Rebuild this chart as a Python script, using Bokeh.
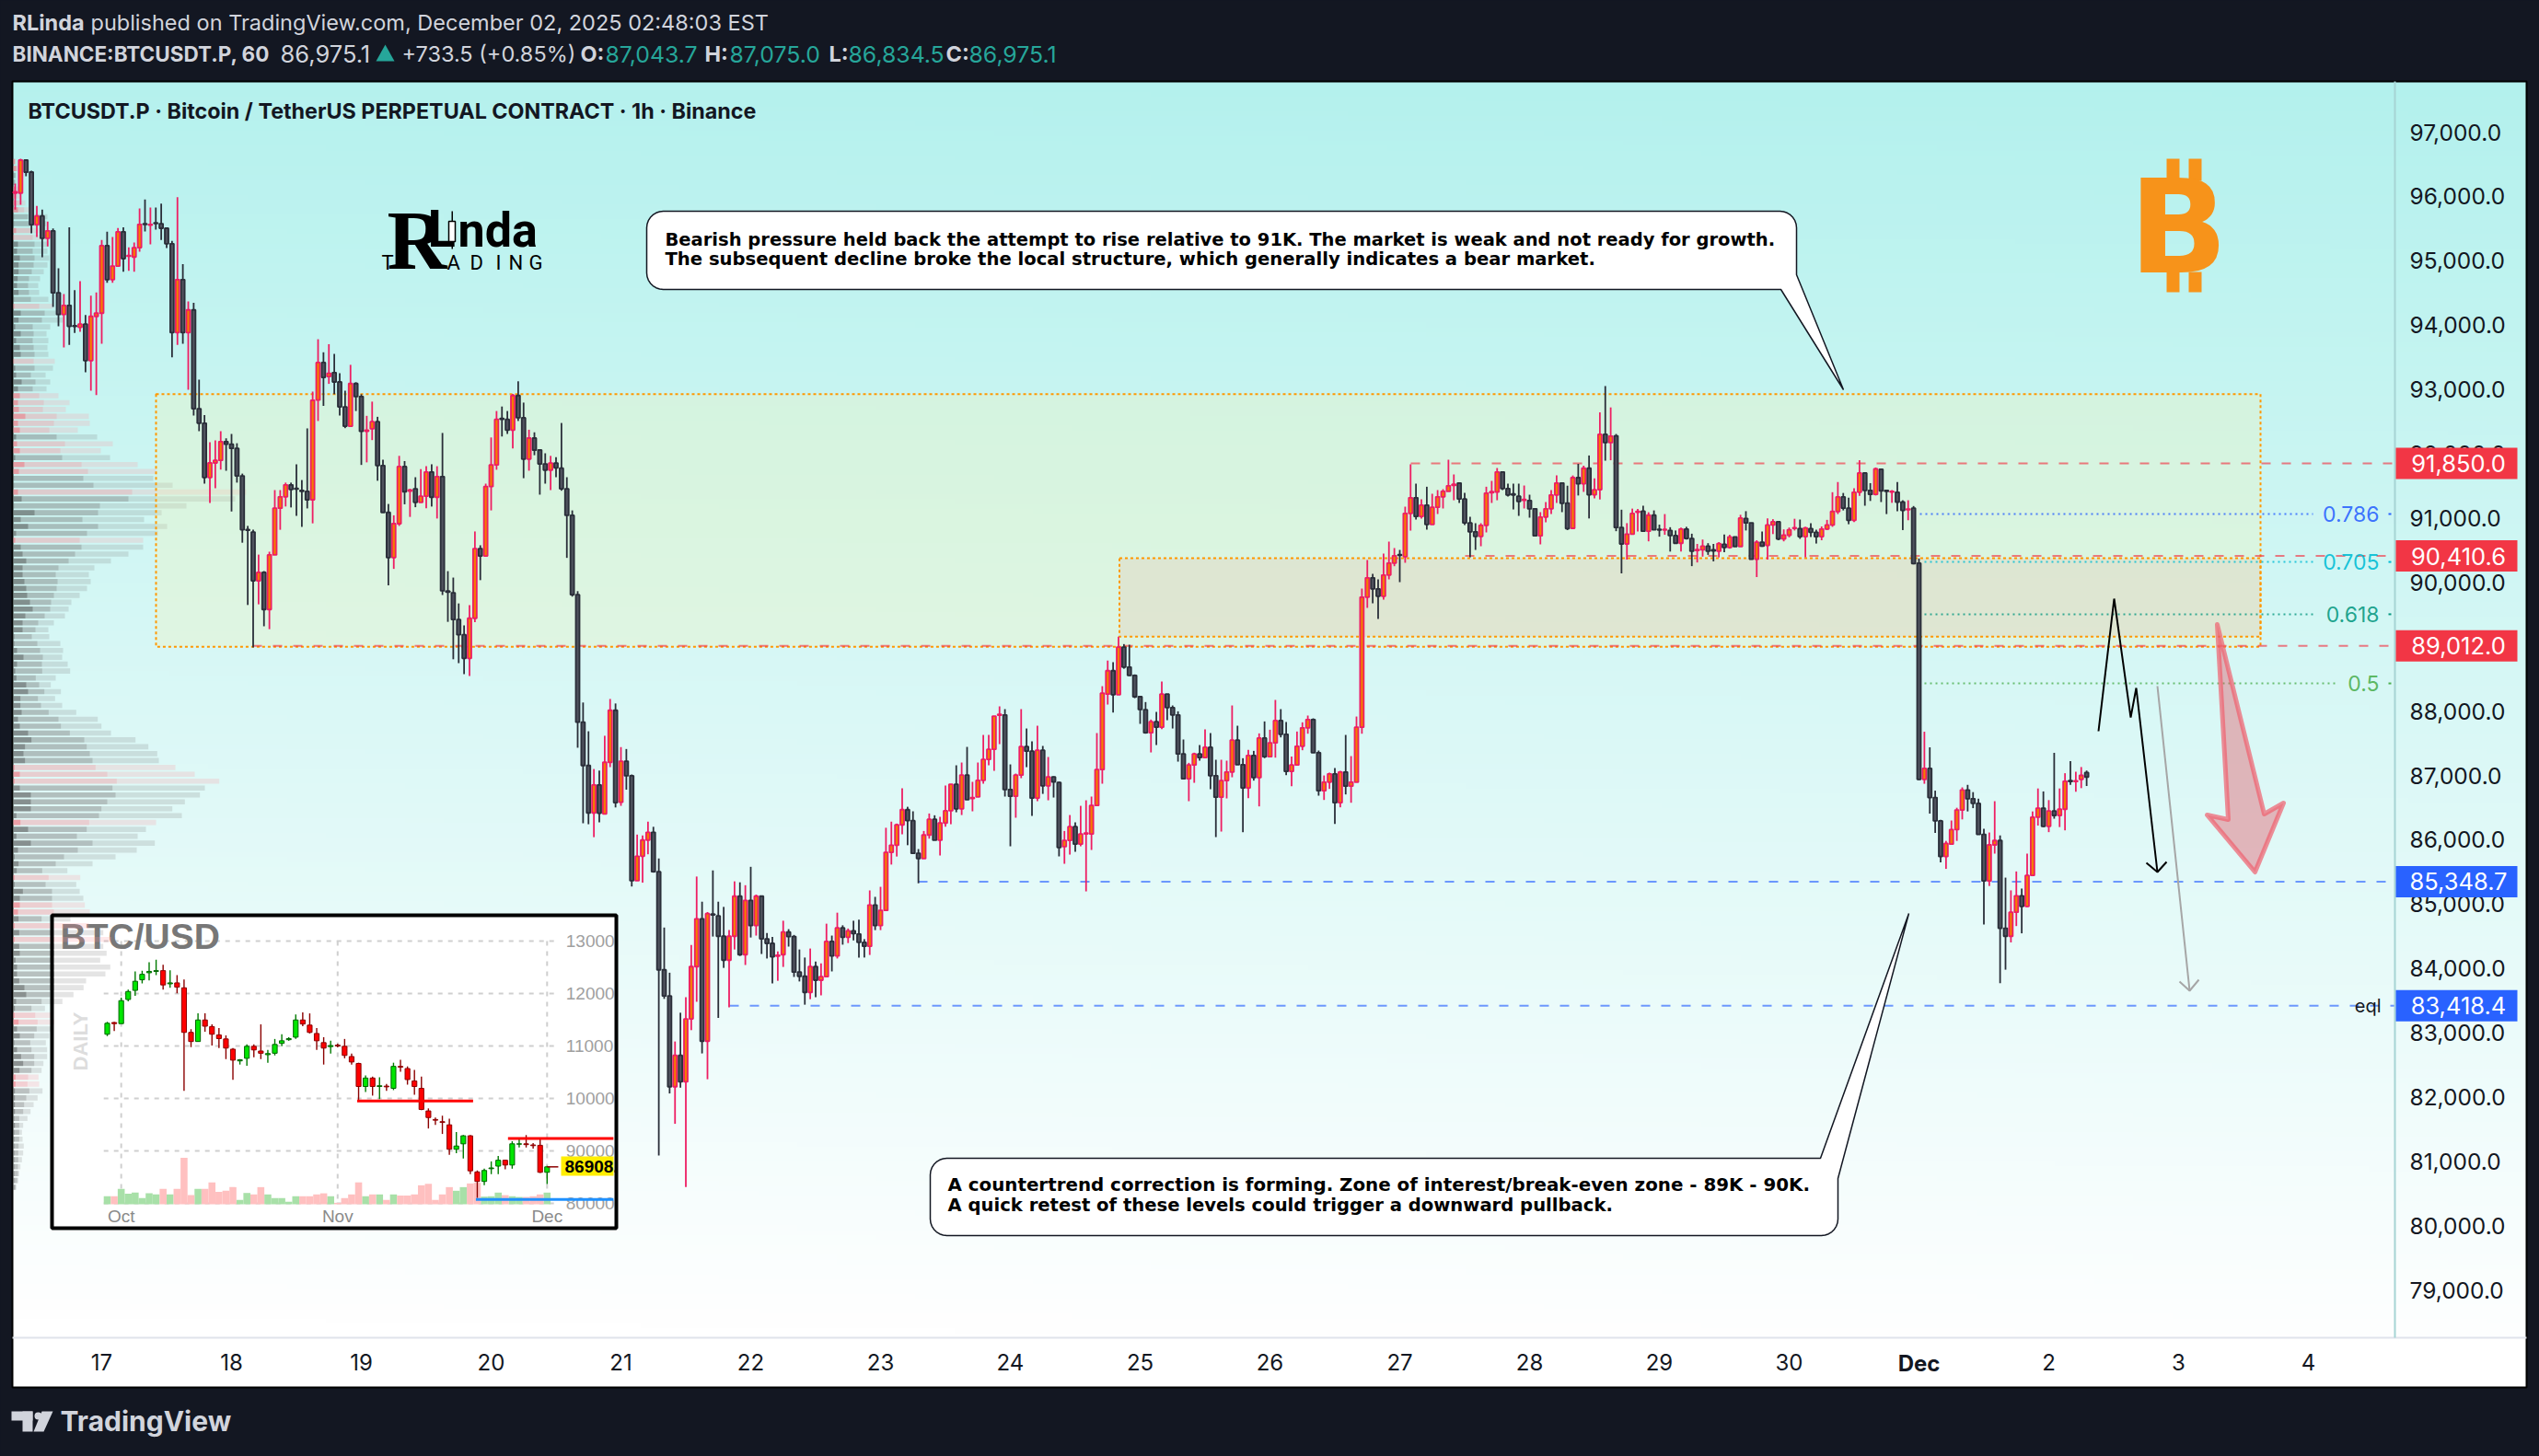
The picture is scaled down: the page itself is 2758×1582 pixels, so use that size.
import numpy as np
from bokeh.plotting import figure
from bokeh.models import Range1d, LinearAxis, FixedTicker, NumeralTickFormatter
from bokeh.core.properties import value
from bokeh.embed import file_html
from bokeh.resources import INLINE

# ---------- main hourly candles (index 0 = Nov 16 08:00, one bar per hour) ----------
first_hour = -16
opens = [
96052,96052,96564,96378,95560,95696,95349,95465,94501,94165,
94306,93990,93965,94015,93448,94135,94185,95234,94707,94918,
95450,95070,95058,95204,95575,95555,95590,95575,95505,95264,
93884,94707,93884,94235,92700,92474,91631,91857,91897,92188,
92148,92083,91656,90820,90783,90025,90156,89579,90427,91154,
91330,91516,91460,91430,91415,91285,92835,93417,93201,93261,
93116,92729,92428,93091,92890,92350,92388,92498,91816,91088,
90386,90913,91801,91420,91455,91244,91339,91716,91324,91645,
89865,89839,89422,89187,88820,89443,90526,90411,91490,91826,
92550,92534,92368,92905,92559,91916,92243,92057,91841,91746,
91856,91776,91455,91043,89809,87827,87154,86417,86853,86402,
87204,88012,86582,87220,86994,85363,85744,85995,86116,85503,
83978,83571,82161,82648,82237,83215,84028,84771,82869,84845,
84816,84500,84128,84500,85122,84214,85057,84665,85122,84460,
84389,84190,84214,84565,84495,83943,83878,83627,84028,83817,
83872,84419,84194,84630,84485,84585,84535,84405,84344,84986,
84665,84901,85804,85915,86231,86467,86296,85789,85707,86074,
86318,85993,86260,86451,86861,86480,87004,86640,86666,86923,
87248,87405,87935,87939,86780,86675,87004,87448,87376,86647,
87391,86838,86976,86890,85893,85989,86203,85931,86090,86089,
86532,87090,88264,88627,88254,88995,88683,88555,88223,88020,
87663,87834,87748,88263,88054,87939,87334,86947,87162,87334,
87276,87438,86995,86661,86919,87052,87548,87167,86804,87310,
86966,87581,87291,87505,87853,87639,87062,87162,87453,87739,
87868,87353,86761,86895,87024,86575,87052,86833,86895,87748,
89771,90071,89899,89785,90114,90300,90430,90400,91072,91316,
91025,91201,90901,91168,91330,91416,91510,91545,91297,90925,
90786,90715,90886,91395,91406,91716,91459,91375,91339,91275,
91273,91144,90724,91015,91144,91359,91545,91232,90841,91628,
91532,91775,91362,91442,92301,92173,92278,90853,90598,90751,
91090,91107,90796,91045,90825,90815,90807,90728,90609,90830,
90683,90495,90508,90564,90505,90485,90593,90542,90706,90559,
90994,90926,90361,90626,90576,90892,90943,90677,90734,90840,
90836,90711,90836,90779,90711,90830,90892,91102,91328,91153,
90966,91402,91701,91430,91368,91758,91430,91405,91401,91249,
91130,91153,90298,86938,87108,86655,86293,85739,85931,86157,
86463,86774,86638,86565,86084,85360,85920,85988,84624,84500,
84873,85128,84964,85445,86350,86491,86208,86446,86378,86474,
86920,86905,86938,87044]
highs = [
96198,96584,96564,96398,95851,95796,95610,95500,94883,94481,
95520,94542,94682,94155,94456,94506,95324,95450,95370,95510,
95520,95209,95284,95811,95952,95826,95826,95886,95505,95309,
95987,94948,94366,94346,93152,92600,92178,92208,92349,92238,
92309,92163,91691,90878,90818,90432,90176,90477,91435,91435,
91551,91551,91837,91591,92394,92966,93780,93577,93703,93552,
93251,92980,93382,93111,92925,92589,92810,92574,91906,91219,
91043,91967,91886,91455,91635,91761,91806,91836,91806,92323,
90175,90075,89673,89332,89648,90792,90577,91535,92253,92664,
92734,92664,92930,93126,92795,92373,92333,92057,92007,91967,
91947,92478,91635,91119,89864,88133,87686,87099,87074,87616,
88188,88118,87440,87410,87014,86080,86065,86281,86201,85709,
84635,83933,82864,83311,83551,84364,85428,85037,84876,85523,
85037,84956,84595,85353,85338,85293,85579,85147,85122,84550,
84490,84264,84741,84610,84520,84294,84169,84309,84108,84078,
84695,84510,84866,84670,84620,84741,84756,84455,85212,85112,
85268,86186,86281,86251,86798,86512,86442,85855,86136,86408,
86380,86356,86842,86861,87157,87200,87443,86900,87200,87629,
87629,87920,88073,88030,87171,87028,88030,87729,87529,87772,
87458,87286,86985,86900,86136,86384,86270,86527,86613,86671,
87658,88387,88785,88760,89158,89041,89031,88570,88223,88140,
87868,87987,88458,88263,88087,87996,87558,87195,87353,87472,
87715,87658,87243,87243,87229,88087,87772,87267,87396,87381,
87653,87839,87710,88173,88030,87830,87295,87682,87825,87930,
87887,87386,86999,87043,87114,87071,87629,87300,87915,89904,
90348,90133,90047,90448,90634,90534,90505,91177,91836,91535,
91292,91487,91378,91435,91449,91907,91678,91545,91392,91020,
90920,90920,91487,91578,91778,91716,91535,91535,91535,91506,
91363,91144,91092,91249,91435,91664,91545,91503,91662,91843,
91814,91973,91616,92643,93052,92720,92307,91130,90921,91147,
91141,91192,91090,91119,90898,91062,90858,90807,90853,90864,
90757,90598,90666,90610,90598,90626,90745,90740,90706,91051,
91107,90926,90655,90791,90994,90983,90943,90824,90853,90989,
90977,90864,90921,90819,90870,90972,91402,91560,91390,91317,
91464,91899,91701,91543,91786,91758,91430,91435,91560,91277,
91277,91187,90372,87679,87436,86763,86310,85982,86299,86497,
86814,86853,86740,86638,86169,86112,86599,86067,85411,85213,
85507,85241,85784,86440,86797,86751,86616,87351,86797,87034,
87221,87057,87130,87075]
lows = [
95796,95871,96313,95425,95370,95053,95224,94281,93980,93653,
93693,93879,93894,93267,92981,92911,93709,94657,94657,94918,
94828,94843,94828,95139,95455,95254,95485,95324,95199,93498,
93693,93709,92996,92594,92349,91536,91235,91465,91752,91736,
91104,91551,90617,89649,88987,89659,89318,89273,90427,90818,
91180,91165,91034,90863,91150,90918,92509,92744,93086,92925,
92594,92398,92428,92664,91826,91866,92212,91580,91088,89954,
90210,90878,91214,91018,91169,91244,91154,91179,90993,89804,
89387,88805,88745,88574,88544,89382,90035,90411,91119,91751,
92268,92308,92082,92509,91620,91736,91977,91364,91535,91435,
91635,91425,90381,89779,87430,86256,86241,86040,86271,86392,
87129,86502,86527,86778,85273,85363,85333,85774,85488,81093,
83526,82056,81584,82146,80600,83040,83481,82678,82277,84495,
83230,84008,83396,84294,84194,84053,84480,84510,84224,84154,
83767,83807,84023,84339,83867,83797,83436,83521,83551,83581,
83872,83953,84154,84369,84394,84435,84169,84169,84209,84595,
84595,84891,85614,85739,86085,85915,85789,85323,85707,86017,
85993,85755,86203,86241,86427,86384,86623,86442,86666,86871,
87157,87071,87486,86671,85898,86342,86957,87128,86370,86599,
86713,86613,86656,85741,85626,85769,85812,85898,85197,85841,
86532,86871,88101,87977,88254,88658,88545,88200,87801,87648,
87357,87472,87720,87858,87729,87214,86947,86599,86885,87229,
87276,86785,86041,86127,86642,86971,87167,86117,86647,86919,
86518,87267,87291,87276,87591,87004,86833,87162,87391,87648,
87353,86685,86618,86790,86246,86504,86704,86575,86895,87648,
89604,89675,89432,89732,90047,90252,90004,90305,90805,90977,
90991,90820,90901,91063,91149,91416,91277,91235,90891,90390,
90505,90562,90777,91235,91277,91435,91335,91134,91034,91149,
91006,90724,90591,90934,91063,91235,91092,90813,90841,91351,
91407,90994,91305,91289,91892,91899,90796,90140,90355,90751,
90791,90796,90638,90819,90711,90740,90479,90598,90479,90666,
90253,90310,90400,90428,90327,90389,90468,90525,90559,90559,
90807,90361,90083,90553,90355,90751,90655,90638,90700,90807,
90677,90389,90706,90604,90655,90813,90864,91062,91119,90904,
90938,91345,91192,91266,91351,91249,91062,91237,91107,90813,
90966,90281,86927,86870,86406,86106,85648,85547,85920,85982,
86316,86440,86491,86084,84681,85281,85784,83770,83980,84404,
84658,84545,84953,85433,86220,86197,86118,86327,86197,86146,
86853,86746,86802,86835]
closes = [
96072,96564,96378,95560,95696,95349,95465,94501,94165,94306,
93980,93980,94015,93448,94135,94185,95234,94707,94918,95450,
95033,95080,95204,95565,95565,95565,95580,95505,95264,93884,
94707,93884,94235,92700,92474,91631,91857,91897,92188,92148,
92083,91656,90818,90810,90025,90156,89579,90427,91154,91330,
91516,91445,91450,91415,91285,92830,93417,93186,93251,93116,
92729,92428,93091,92890,92348,92365,92498,91816,91088,90386,
90913,91801,91410,91435,91244,91339,91716,91324,91645,89869,
89850,89422,89187,88820,89443,90526,90411,91490,91826,92534,
92535,92368,92905,92559,91916,92243,92057,91841,91746,91856,
91781,91455,91043,89809,87827,87154,86417,86853,86412,87204,
88012,86577,87220,86994,85363,85744,85995,86116,85503,83978,
83571,82161,82648,82237,83215,84028,84771,82869,84851,84830,
84500,84128,84500,85122,84214,85057,84665,85122,84460,84389,
84179,84205,84565,84495,83943,83878,83627,84028,83817,83872,
84419,84194,84630,84485,84585,84540,84405,84344,84986,84665,
84901,85804,85915,86231,86467,86296,85789,85709,86074,86318,
85993,86260,86451,86861,86480,87004,86623,86655,86923,87248,
87405,87920,87950,86780,86675,87004,87448,87376,86647,87391,
86838,86976,86900,85879,85989,86203,85931,86089,86105,86532,
87090,88278,88627,88254,88995,88683,88555,88223,88024,87663,
87834,87748,88263,88054,87939,87334,86947,87162,87334,87276,
87438,86995,86661,86919,87052,87548,87167,86804,87310,86966,
87581,87291,87505,87853,87639,87062,87162,87453,87739,87868,
87353,86761,86895,87024,86575,87052,86833,86895,87748,89771,
90071,89899,89785,90114,90300,90414,90420,91072,91316,91025,
91201,90901,91168,91330,91416,91502,91525,91297,90925,90786,
90715,90886,91387,91410,91716,91459,91359,91360,91258,91290,
91144,90724,91015,91144,91359,91545,91230,90836,91628,91532,
91775,91362,91441,92301,92173,92275,90853,90598,90751,91073,
91105,90796,91045,90819,90815,90825,90728,90609,90830,90683,
90485,90510,90564,90485,90490,90604,90542,90706,90559,90999,
90926,90361,90626,90564,90892,90943,90677,90734,90819,90850,
90711,90847,90779,90711,90830,90892,91102,91328,91153,90966,
91402,91701,91430,91368,91764,91424,91415,91415,91249,91119,
91140,90293,86938,87108,86655,86293,85739,85943,86157,86463,
86774,86638,86565,86084,85360,85920,85988,84624,84500,84873,
85128,84964,85445,86350,86491,86208,86446,86378,86474,86910,
86905,86915,87000,86975]

# ---------- volume profile rows, top to bottom ----------
vp_top_price = 96540
vp_step = 107
vp_side = ("ppggppppgg" "ppgggggggg" "gpgggggggp" "ggggpppppp" "gppgppggpg" "gggggpgggg"
           "gggggggggg" "gggg" "gggggggggggggg" "ppp" "ggggg" "p" "ggggggg" "p" "ggg" "pp"
           "gpgp" "gggggggggg" "pp" "ggggggg" "pp" "ggggggggggggggg")
vp_part1 = [5,9,2,2,5,2,3,15,2,2, 9,2,15,12,21,17,17,14,12,17,
            2,3,24,17,6,24,9,21,24,2, 6,9,27,15,21,15,18,39,15,21,
            9,12,21,6,36,18,2,2,15,27, 2,69,24,48,9,6,24,30,42,30,
            30,36,42,45,54,63,39,30,30,3, 3,12,33,12,
            6,10,42,48,23,23,27,15,21,48,59,38,33,38,4,21,4,21,57,57,57,10,23,48,10,57,15,4,17,11,4,4,31,21,21,15,
            17,4,19,4,19,21,7,12,12,19,36,42,9,5,4,17,12,21,3,12,25,32,20,7,7,5,5,5,5,3,5,3,3,3,3,3,3,3,3,3]
vp_part2 = [5,12,7,5,7,9,19,35,47,57, 57,63,69,63,69,66,60,51,48,51,
            57,84,102,93,63,66,63,66,69,66, 69,57,72,63,84,99,96,141,132,117,
            141,168,153,159,222,243,228,261,387,375, 282,276,225,276,240,216,222,201,180,147,
            138,144,141,132,123,120,102,81,72,60, 78,87,96,93,
            94,73,84,101,80,90,115,147,155,184,231,239,249,258,268,306,337,323,333,306,287,279,247,239,207,258,210,165,138,94,115,105,126,126,126,132,
            92,119,126,133,133,133,126,133,133,133,133,119,92,59,71,79,76,68,55,59,68,68,59,48,46,52,42,35,32,19,19,19,19,17,16,16,15,15,12,8]
vp_total = [9,15,9,9,17,22,39,57,111,107, 102,112,115,111,117,111,99,87,81,84,
            114,129,162,162,120,108,114,111,114,135, 129,105,120,108,147,183,171,246,249,210,
            273,324,285,315,405,467,456,519,759,723, 564,483,426,501,471,423,423,375,318,264,
            246,252,240,216,189,180,168,132,114,117, 153,162,159,177,
            185,138,122,155,136,159,205,275,287,318,398,440,469,474,528,591,671,624,608,559,518,549,465,432,405,461,402,333,258,176,218,205,216,228,233,249,
            186,246,293,320,293,304,283,316,300,237,229,196,160,103,122,133,130,117,106,110,110,98,92,82,84,95,79,66,56,46,32,28,30,34,32,28,23,19,16,9]

# ---------- level lines and fib ----------
level_prices = [91850.0, 90410.6, 89012.0, 85348.7, 83418.4]
level_labels = ["91,850.0", "90,410.6", "89,012.0", "85,348.7", "83,418.4"]
zone_big = (92926, 89000)
zone_small = (90375, 89158)
fib_prices = [91063, 90318, 89505, 88430]
fib_labels = ["0.786", "0.705", "0.618", "0.5"]
price_ticks = [79000,80000,81000,82000,83000,84000,85000,86000,87000,88000,89000,90000,
               91000,92000,93000,94000,95000,96000,97000]
hour_ticks = [0,24,48,72,96,120,144,168,192,216,240,264,288,312,360,384,408]
hour_labels = ["17","18","19","20","21","22","23","24","25","26","27","28","29","30","2","3","4"]

# ---------- inset daily chart ----------
in_open = [112240,114470,114260,118860,120600,122620,123960,124220,124360,121850,122030,121090,112590,110850,114960,113700,112100,111340,109390,107160,
           107650,109940,109040,108340,108620,110500,111200,111680,114960,113980,112380,110640,109880,110160,109940,107990,106670,102280,103890,102280,
           102350,101930,106110,105700,103330,101930,97620,95990,95570,94970,90310,91350,92880,85990,84180,86610,87100,88220,87310,91280,91350,91140,91070,85920]
in_high = [114610,114610,119200,120740,124220,124360,125960,126450,125470,124430,123520,122690,113220,116210,116210,114120,113420,112030,109600,107500,
           110290,110290,114120,109250,111340,112240,111680,116000,116420,116210,113420,111680,110990,110430,111340,108550,106810,104370,104160,104020,
           102770,106810,107370,106110,105420,104160,98100,96360,96710,96150,93580,93020,93020,86270,86610,88000,89050,88350,91840,92190,93020,91490,92190,87170]
in_low = [111890,112870,114260,118510,119550,121920,122480,123520,120740,121090,120040,101450,109800,110850,112730,110080,109600,107500,103540,106460,
          106250,107850,107500,106810,108200,109940,110990,111340,113770,112380,109250,106460,108550,109740,107650,106460,99500,101240,100540,99850,
          101450,101590,105070,102630,100680,97760,94270,94970,93230,89260,89540,88560,85570,81040,83480,85570,85570,86470,86610,90650,90650,90440,85780,83690]
in_close = [114330,114260,118650,120390,122340,123660,124220,124360,121640,122030,121220,112590,110850,114960,113770,112240,111410,109600,107300,107370,
            109940,109250,108620,108550,110290,110990,111400,114960,114190,112590,110990,109600,110090,110000,108200,106950,102280,103890,102280,102420,
            102210,106110,105970,103600,102280,97900,96360,95850,95430,90310,90930,92880,86200,84180,86270,86750,88220,87310,91350,91350,91200,91000,85920,86960]
in_vol = [22,22,42,29,32,17,30,27,42,27,42,127,25,42,42,60,34,37,47,12,31,27,47,27,17,17,7,22,22,22,27,30,
          22,4,17,27,60,22,27,27,12,27,24,24,27,52,56,12,27,47,37,47,57,59,21,22,32,25,22,20,20,22,27,32]
in_price_ticks = [130000,120000,110000,100000,90000,80000]
in_price_labels = ["13000","12000","11000","10000","90000","80000"]
in_day_ticks = [2,33,63]
in_day_labels = ["Oct","Nov","Dec"]

header_ohlc = ["87,043.7","87,075.0","86,834.5","86,975.1"]

# ---------- page geometry (page pixels -> data) ----------
PXH, X0 = 5.875, 110
PYP, Y0 = 0.0699, 143
def X(px): return (px - X0) / PXH
def Y(py): return 97000 - (py - Y0) / PYP
L, R, TOP, BOT = 0, 2758, 0, 1582

p = figure(width=R-L, height=BOT-TOP, output_backend="svg", toolbar_location=None,
           x_range=Range1d(X(L), X(R)), y_range=Range1d(Y(BOT), Y(TOP)),
           x_axis_type=None, y_axis_type=None, min_border=0, outline_line_color=None,
           background_fill_color="#131722", border_fill_color="#131722")
p.grid.visible = False
p.extra_x_ranges = {
    "vp": Range1d((L-14)*3, (R-14)*3),
    "ix": Range1d((L-116)/7.584, (R-116)/7.584),
}
p.extra_y_ranges = {
    "iy": Range1d(130000-(BOT-1022)/0.0057, 130000-(TOP-1022)/0.0057),
    "iv": Range1d((1308-BOT)*2.52, (1308-TOP)*2.52),
}

def T(px, py, s, size, color, style="normal", align="left", font="Inter", angle=0,
      level="glyph", baseline="middle"):
    if baseline == "alphabetic":
        py = py - 0.36 * size
    p.text(x=[X(px)], y=[Y(py)], text=[s], text_font=value(font), text_font_size=f"{size}px",
           text_color=color, text_font_style=style, text_align=align, text_baseline=baseline,
           angle=angle, level=level)

def box(x0, y0, x1, y1, **kw):
    p.quad(left=[X(x0)], right=[X(x1)], top=[Y(y0)], bottom=[Y(y1)], **kw)

def poly(pts, **kw):
    p.patch([X(a) for a, b in pts], [Y(b) for a, b in pts], **kw)

def line(pts, **kw):
    p.line([X(a) for a, b in pts], [Y(b) for a, b in pts], **kw)

# ---------- background gradient ----------
box(13, 1453, 2744, 1507, fill_color="#ffffff", line_color=None)
rows, cols = 256, 64
ty = np.linspace(1, 0, rows)[:, None]
tx = np.linspace(0, 1, cols)[None, :]
t = np.clip(ty * 0.97 + (0.5 - tx) * 0.03 + 0.03, 0, 1)
img = np.zeros((rows, cols, 4), dtype=np.uint8)
for k, (a, b) in enumerate(zip((178, 241, 237), (255, 255, 255))):
    img[:, :, k] = (a + (b - a) * t).astype(np.uint8)
img[:, :, 3] = 255
p.image_rgba(image=[img.view(np.uint32).reshape(rows, cols)], x=X(13), y=Y(1453),
             dw=X(2744)-X(13), dh=Y(88)-Y(1453))
box(13, 88, 2744, 1507, fill_color=None, line_color="#000000", line_width=2)

# ---------- inset chart ----------
box(56, 994, 669, 1334, fill_color="#ffffff", line_color=None)
idx = np.arange(len(in_open))
io, ih, il, ic = map(np.array, (in_open, in_high, in_low, in_close))
iup = ic >= io
GD = value([5, 6])
p.segment(x0=[-0.5]*6, x1=[64]*6, y0=in_price_ticks, y1=in_price_ticks, x_range_name="ix", y_range_name="iy",
          line_color="#cfcfcf", line_width=2, line_dash=GD)
p.segment(x0=in_day_ticks, x1=in_day_ticks, y0=[130000]*3, y1=[80500]*3, x_range_name="ix", y_range_name="iy",
          line_color="#cfcfcf", line_width=2, line_dash=GD)
T(65, 1017, "BTC/USD", 39, "#777777", "bold", font="Liberation Sans")
T(87, 1131, "DAILY", 22, "#dddddd", "bold", "center", "Liberation Sans", angle=np.pi/2)
p.text(x=[65.7]*6, y=in_price_ticks, text=in_price_labels, x_range_name="ix", y_range_name="iy",
       text_font=value("Liberation Sans"), text_font_size="19px", text_color="#a0a0a0", text_baseline="middle")
for d, s in zip(in_day_ticks, in_day_labels):
    p.text(x=[d], y=[77500], text=[s], x_range_name="ix", y_range_name="iy", text_font=value("Liberation Sans"),
           text_font_size="19px", text_color="#8a8a8a", text_align="center", text_baseline="middle")
p.vbar(x=idx[iup], width=1, bottom=0, top=np.array(in_vol)[iup], x_range_name="ix", y_range_name="iv",
       fill_color="#a8e0a8", line_color=None)
p.vbar(x=idx[~iup], width=1, bottom=0, top=np.array(in_vol)[~iup], x_range_name="ix", y_range_name="iv",
       fill_color="#ffc0c0", line_color=None)
p.segment(x0=idx[iup], x1=idx[iup], y0=il[iup], y1=ih[iup], x_range_name="ix", y_range_name="iy",
          line_color="#007a00", line_width=1.4)
p.segment(x0=idx[~iup], x1=idx[~iup], y0=il[~iup], y1=ih[~iup], x_range_name="ix", y_range_name="iy",
          line_color="#8b0000", line_width=1.4)
p.vbar(x=idx[iup], width=0.68, bottom=io[iup], top=ic[iup], x_range_name="ix", y_range_name="iy",
       fill_color="#00e600", line_color="#006400", line_width=1)
p.vbar(x=idx[~iup], width=0.68, bottom=ic[~iup], top=io[~iup], x_range_name="ix", y_range_name="iy",
       fill_color="#ff0000", line_color="#8b0000", line_width=1)
p.segment(x0=[35.8], x1=[52.4], y0=[99500], y1=[99500], x_range_name="ix", y_range_name="iy", line_color="#ff0000", line_width=3)
p.segment(x0=[57.4], x1=[72.5], y0=[92390], y1=[92390], x_range_name="ix", y_range_name="iy", line_color="#ff0000", line_width=3)
p.segment(x0=[52.8], x1=[72.5], y0=[80760], y1=[80760], x_range_name="ix", y_range_name="iy", line_color="#1e90ff", line_width=3)
p.segment(x0=[63], x1=[64.6], y0=[86960], y1=[86960], x_range_name="ix", y_range_name="iy", line_color="#8b0000", line_width=1.5)
box(609, 1256, 666, 1277, fill_color="#ffee00", line_color=None)
T(613, 1267, "86908.", 19, "#000000", "bold", font="Liberation Sans")

# ---------- volume profile ----------
vp_y = np.array([vp_top_price - vp_step * i for i in range(len(vp_total))])
sides = np.array(list(vp_side)) == "p"
for vals, gc, ga, pc, pa in ((vp_total, "#828282", .22, "#ff96a0", .22),
                             (vp_part2, "#6a6a6a", .27, "#f0828c", .22),
                             (vp_part1, "#2b2b2b", .32, "#f5505f", .36)):
    vals = np.array(vals)
    p.hbar(y=vp_y[~sides], height=80, left=0, right=vals[~sides], x_range_name="vp", fill_color=gc, fill_alpha=ga, line_color=None)
    p.hbar(y=vp_y[sides], height=80, left=0, right=vals[sides], x_range_name="vp", fill_color=pc, fill_alpha=pa, line_color=None)
box(56, 994, 669, 1334, fill_color=None, line_color="#000000", line_width=4)

# ---------- zones ----------
ZD = value([3, 3])
p.quad(left=[X(169)], right=[X(2455)], top=[zone_big[0]], bottom=[zone_big[1]], fill_color="#f4f3b5", fill_alpha=.3,
       line_color="#ff9800", line_width=2, line_dash=ZD)
p.quad(left=[X(1215.5)], right=[X(2455)], top=[zone_small[0]], bottom=[zone_small[1]], fill_color="#e8a898", fill_alpha=.2,
       line_color="#ff9800", line_width=2, line_dash=ZD)

# ---------- level lines ----------
level_start = [1532, 1591, 274, 997, 792]
level_color = ["#f23645", "#f23645", "#f23645", "#2962ff", "#2962ff"]
for lv, st, c in zip(level_prices, level_start, level_color):
    p.segment(x0=[X(st)], x1=[X(2601)], y0=[lv], y1=[lv], line_color=c, line_alpha=.65, line_width=2, line_dash=value([10, 12]))

# ---------- fib ----------
fib_colors = ["#2962ff", "#00bcd4", "#089981", "#4caf50"]
fib_start = [2085, 2090, 2090, 2090]
fib_end = [2512, 2512, 2512, 2538]
for f, s, st, en, c in zip(fib_prices, fib_labels, fib_start, fib_end, fib_colors):
    p.segment(x0=[X(st)], x1=[X(en)], y0=[f], y1=[f], line_color=c, line_width=2, line_dash=value([2, 4]), line_alpha=.8)
    p.segment(x0=[X(2594)], x1=[X(2597)], y0=[f], y1=[f], line_color=c, line_width=2)
    p.text(x=[X(2584)], y=[f], text=[s], text_font=value("Inter"), text_font_size="23px", text_color=c,
           text_align="right", text_baseline="middle", text_alpha=.9)
p.text(x=[X(2586)], y=[level_prices[4]], text=["eql"], text_font=value("Inter"), text_font_size="20px",
       text_color="#131722", text_align="right", text_baseline="middle")

# ---------- candles ----------
h = np.arange(len(opens)) + first_hour
O, H, LO, C = map(np.array, (opens, highs, lows, closes))
up = C >= O
DARK, PINK = "#2a2e39", "#ee1e63"
p.segment(x0=h[~up], x1=h[~up], y0=LO[~up], y1=H[~up], line_color=DARK, line_width=1.8)
p.segment(x0=h[up], x1=h[up], y0=LO[up], y1=H[up], line_color=PINK, line_width=1.8)
p.vbar(x=h[~up], width=0.68, top=O[~up], bottom=C[~up], fill_color="#50535e", line_color=DARK, line_width=1.8)
p.vbar(x=h[up], width=0.68, top=C[up], bottom=O[up], fill_color="#f57c00", line_color=PINK, line_width=1.8)

# ---------- arrows ----------
line([(2279, 794), (2296, 650), (2314, 779), (2320, 747), (2343, 947)], line_color="#000000", line_width=2)
line([(2331, 937), (2343, 947), (2353, 936)], line_color="#000000", line_width=2)
line([(2343, 745), (2378, 1076)], line_color="#a6a6a6", line_width=2)
line([(2367, 1066), (2378, 1076), (2388, 1064)], line_color="#a6a6a6", line_width=2)
poly([(2408, 678), (2420, 890), (2397, 885), (2449, 947), (2480, 872), (2459, 884)],
     fill_color="#e05060", fill_alpha=.4, line_color="#f0606e", line_alpha=.7, line_width=5, line_join="round")

# ---------- callouts ----------
def corner(cx, cy, r, a0, a1):
    return [(cx + r*np.cos(a), cy + r*np.sin(a)) for a in np.linspace(a0, a1, 8)]
pi = np.pi
r = 18
poly(corner(702+r, 229+r, r, pi, 1.5*pi) + corner(1951-r, 229+r, r, 1.5*pi, 2*pi) +
     [(1951, 298), (2002, 423), (1934, 314)] + corner(702+r, 314-r, r, .5*pi, pi),
     fill_color="#ffffff", line_color="#131722", line_width=1.5)
poly(corner(1010+r, 1258+r, r, pi, 1.5*pi) + [(1977, 1258), (2073, 992), (1996, 1280)] +
     corner(1996-r, 1342-r, r, 0, .5*pi) + corner(1010+r, 1342-r, r, .5*pi, pi),
     fill_color="#ffffff", line_color="#131722", line_width=1.5)
CF = "DejaVu Sans"
T(722, 260, "Bearish pressure held back the attempt to rise relative to 91K. The market is weak and not ready for growth.", 19.5, "#000000", "bold", font=CF)
T(722, 281, "The subsequent decline broke the local structure, which generally indicates a bear market.", 19.6, "#000000", "bold", font=CF)
T(1029, 1287, "A countertrend correction is forming. Zone of interest/break-even zone - 89K - 90K.", 19.85, "#000000", "bold", font=CF)
T(1029, 1309, "A quick retest of these levels could trigger a downward pullback.", 19.6, "#000000", "bold", font=CF)

# ---------- logo ----------
T(420, 293, "R", 90, "#000000", "bold", font="Liberation Serif", baseline="alphabetic")
T(464, 269, "L", 56, "#000000", "bold", font="Roboto", baseline="alphabetic")
box(490, 229, 491.5, 270, fill_color="#000000", line_color=None)
box(487, 240, 494, 262, fill_color="#ffffff", line_color="#000000", line_width=1.5)
T(497, 269, "nda", 52, "#000000", "bold", font="Roboto", baseline="alphabetic")
T(414, 293, "T", 22, "#000000", font="Roboto", baseline="alphabetic")
for lx, ch in zip((485, 510, 538, 552, 574), "ADING"):
    T(lx, 293, ch, 22, "#000000", font="Roboto", baseline="alphabetic")

# ---------- bitcoin mark ----------
ORG = "#f7931a"
for bx in (2353, 2377):
    box(bx, 172, bx+14, 196, fill_color=ORG, line_color=None)
    box(bx, 295, bx+14, 317, fill_color=ORG, line_color=None)
T(2312, 297, "B", 141, ORG, "bold", font="DejaVu Sans", baseline="alphabetic")

# ---------- headers ----------
W, G = "#d1d4dc", "#26a69a"
T(13, 24, "RLinda", 23.5, W, "bold")
T(98, 24, "published on TradingView.com, December 02, 2025 02:48:03 EST", 23.5, W)
T(13, 58, "BINANCE:BTCUSDT.P, 60", 22.5, W, "bold")
T(304, 58, header_ohlc[3], 25.5, W)
poly([(408, 66), (418, 48), (428, 66)], fill_color=G, line_color=None)
T(436, 58, "+733.5 (+0.85%)", 23.5, W)
for lx, vx, lab, v in zip((630, 765, 900, 1027), (657, 792, 921, 1052), "OHLC", header_ohlc):
    T(lx, 58, lab + ":", 23.5, W, "bold")
    T(vx, 58, v, 24.8, G)
T(30, 120, "BTCUSDT.P \u00b7 Bitcoin / TetherUS PERPETUAL CONTRACT \u00b7 1h \u00b7 Binance", 23.3, "#131722", "bold")

# TradingView logo
box(12, 1533, 35, 1543, fill_color=W, line_color=None)
box(24, 1533, 35, 1555, fill_color=W, line_color=None)
p.circle(x=[X(41)], y=[Y(1538)], radius=4/PXH, fill_color=W, line_color=None)
poly([(45, 1533), (57, 1533), (47, 1555), (36, 1555)], fill_color=W, line_color=None)
T(65, 1543, "TradingView", 30, W, "bold")

# ---------- axes ----------
yax = LinearAxis(fixed_location=X(2601), bounds=(Y(1453), Y(88)), ticker=FixedTicker(ticks=price_ticks),
                 formatter=NumeralTickFormatter(format="0,0.0"), major_tick_line_color=None, minor_tick_line_color=None,
                 axis_line_color="#a6d4d4", axis_line_width=2, major_label_standoff=10,
                 major_label_text_font="Inter", major_label_text_font_size="24.5px", major_label_text_color="#131722")
p.add_layout(yax, "right")
xax = LinearAxis(fixed_location=Y(1453), bounds=(X(13), X(2744)), ticker=FixedTicker(ticks=hour_ticks),
                 major_label_overrides=dict(zip(hour_ticks, hour_labels)), major_tick_line_color=None,
                 minor_tick_line_color=None, axis_line_color="#e0e3eb", axis_line_width=2, major_label_standoff=11,
                 major_label_text_font="Inter", major_label_text_font_size="24px", major_label_text_color="#131722")
p.add_layout(xax, "below")
xax2 = LinearAxis(fixed_location=Y(1453), bounds=(X(13), X(2744)), ticker=FixedTicker(ticks=[336]),
                  major_label_overrides={336: "Dec"}, major_tick_line_color=None, minor_tick_line_color=None,
                  axis_line_color=None, major_label_standoff=7, major_label_text_font="Inter",
                  major_label_text_font_size="24px", major_label_text_font_style="bold", major_label_text_color="#131722")
p.add_layout(xax2, "below")

# ---------- price flags (above the axis labels) ----------
flag_c = ["#f23645", "#f23645", "#f23645", "#2962ff", "#2962ff"]
for lv, s, c in zip(level_prices, level_labels, flag_c):
    p.quad(left=[X(2602)], right=[X(2734)], top=[lv + 17/PYP], bottom=[lv - 17/PYP], fill_color=c, line_color=None, level="annotation")
    p.text(x=[X(2670)], y=[lv], text=[s], text_font=value("Inter"), text_font_size="25.5px", text_color="#ffffff",
           text_align="center", text_baseline="middle", level="annotation")

html = file_html(p, INLINE, title="BTCUSDT.P")
html = html.replace("<head>", "<head><style>html,body{background:#131722;}</style>", 1)
open("out.html", "w").write(html)
